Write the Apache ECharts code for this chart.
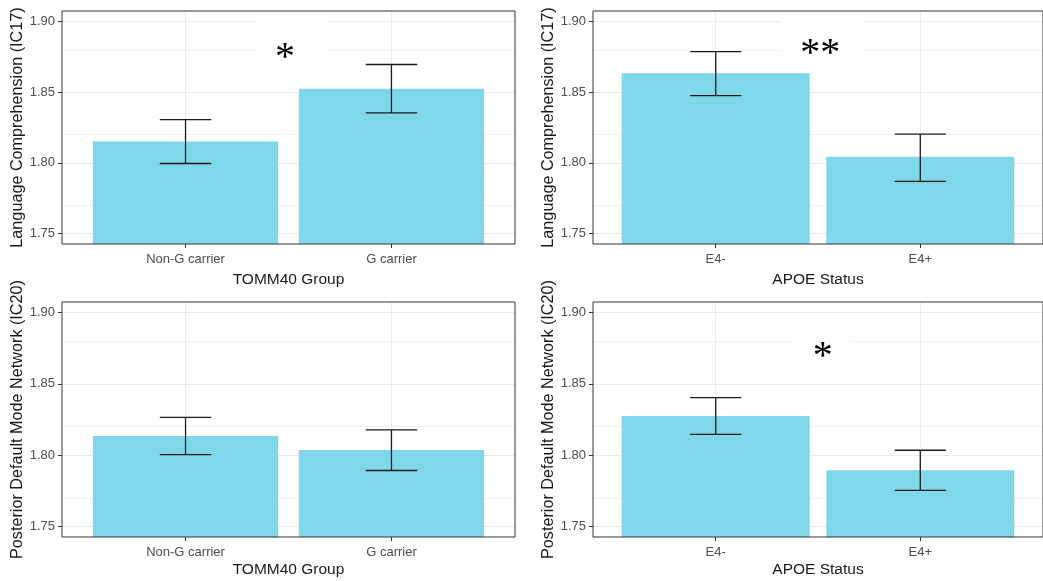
<!DOCTYPE html>
<html><head><meta charset="utf-8">
<script src="https://cdn.jsdelivr.net/npm/echarts/dist/echarts.min.js"></script>
<style>html,body{margin:0;padding:0;background:#fff}#c{width:1043px;height:581px}</style>
</head><body><div id="c"></div>
<script>
// ---- data ----
const tommCategories = ['Non-G carrier', 'G carrier'];
const apoeCategories = ['E4-', 'E4+'];
const xPositions = [1, 2];
const yTicks = [1.75, 1.80, 1.85, 1.90];
const yMinorTicks = [1.775, 1.825, 1.875];

const lcTommMean = [1.815, 1.8525];
const lcTommLow  = [1.7995, 1.8353];
const lcTommHigh = [1.8306, 1.8696];

const lcApoeMean = [1.8635, 1.8043];
const lcApoeLow  = [1.8476, 1.7869];
const lcApoeHigh = [1.8787, 1.8203];

const pdmnTommMean = [1.8134, 1.8035];
const pdmnTommLow  = [1.8003, 1.7892];
const pdmnTommHigh = [1.8265, 1.8177];

const pdmnApoeMean = [1.8274, 1.7894];
const pdmnApoeLow  = [1.8145, 1.7753];
const pdmnApoeHigh = [1.8403, 1.8034];

const sigLabels = ['*', '**', '', '*'];
const sigX      = [1.483, 1.511, null, 1.523];
const sigY      = [1.8792, 1.8822, null, 1.8743];

const yTitles = ['Language Comprehension (IC17)', 'Language Comprehension (IC17)',
                 'Posterior Default Mode Network (IC20)', 'Posterior Default Mode Network (IC20)'];
const xTitles = ['TOMM40 Group', 'APOE Status', 'TOMM40 Group', 'APOE Status'];

// ---- layout / style ----
// box: white label background around the significance mark, [dx, dy, w, h] in px relative to the mark
const panels = [
  {grid:{left:62, top:11, width:453, height:233}, cats:tommCategories, mean:lcTommMean, low:lcTommLow, high:lcTommHigh, yGap:34, xGap:28, box:[-30,-34,72,56]},
  {grid:{left:593, top:11, width:459.5, height:233}, cats:apoeCategories, mean:lcApoeMean, low:lcApoeLow, high:lcApoeHigh, yGap:36, xGap:28, box:[-40,-30,82,52]},
  {grid:{left:62, top:302, width:453, height:235}, cats:tommCategories, mean:pdmnTommMean, low:pdmnTommLow, high:pdmnTommHigh, yGap:34, xGap:25, box:null},
  {grid:{left:593, top:302, width:459.5, height:235}, cats:apoeCategories, mean:pdmnApoeMean, low:pdmnApoeLow, high:pdmnApoeHigh, yGap:36, xGap:25, box:[-31,-24,59,46]}
];
const X_MIN = 0.4, X_MAX = 2.6, Y_MIN = 1.7425, Y_MAX = 1.9075;
const BAR_UNITS = 0.9, CAP_HALF = 0.125;
const FONT = '"Liberation Sans", Arial, sans-serif';
const SIG_FONT = '40px "Liberation Serif", "Times New Roman", serif';
const SIG_GLYPH_SHIFT = 8;
const barColor = '#7FD7EA';
const gridMajor = '#EBEBEB', gridMinor = '#F3F3F3';

const chart = echarts.init(document.getElementById('c'), null, {renderer:'canvas'});
const grids = [], xAxes = [], yAxes = [], series = [];

panels.forEach((p, i) => {
  grids.push(Object.assign({show:true, borderColor:'#333333', borderWidth:1, backgroundColor:'transparent', z:10}, p.grid));
  xAxes.push({
    type:'value', gridIndex:i, min:X_MIN, max:X_MAX,
    name:xTitles[i], nameLocation:'middle', nameGap:p.xGap,
    nameTextStyle:{fontFamily:FONT, fontSize:15.5, color:'#1a1a1a'},
    axisLine:{show:false},
    axisTick:{show:true, length:4, customValues:xPositions, lineStyle:{color:'#333333', width:1}},
    axisLabel:{show:true, margin:9, customValues:xPositions, fontFamily:FONT, fontSize:13, color:'#4D4D4D',
      formatter:(v) => p.cats[Math.round(v) - 1] || ''},
    splitLine:{show:true, lineStyle:{color:gridMajor, width:1}}
  });
  yAxes.push({
    type:'value', gridIndex:i, min:Y_MIN, max:Y_MAX,
    name:yTitles[i], nameLocation:'middle', nameGap:p.yGap, nameRotate:90,
    nameTextStyle:{fontFamily:FONT, fontSize:16.2, color:'#1a1a1a'},
    axisLine:{show:false},
    axisTick:{show:true, length:4, customValues:yTicks, lineStyle:{color:'#333333', width:1}},
    axisLabel:{show:true, margin:7, customValues:yTicks, fontFamily:FONT, fontSize:13, color:'#4D4D4D',
      formatter:(v) => v.toFixed(2)},
    splitLine:{show:true, lineStyle:{color:gridMajor, width:1}}
  });
  // minor grid lines (under the bars)
  series.push({
    type:'line', xAxisIndex:i, yAxisIndex:i, data:[], z:0, silent:true,
    markLine:{silent:true, z:1, symbol:['none','none'], label:{show:false}, animation:false,
      lineStyle:{color:gridMinor, width:1, type:'solid'},
      data: yMinorTicks.map(v => ({yAxis:v}))}
  });
  const barW = BAR_UNITS * p.grid.width / (X_MAX - X_MIN);
  series.push({
    type:'bar', xAxisIndex:i, yAxisIndex:i, z:2, barWidth:barW,
    itemStyle:{color:barColor}, animation:false,
    data: xPositions.map((x, k) => [x, p.mean[k]])
  });
  series.push({
    type:'custom', xAxisIndex:i, yAxisIndex:i, z:4, animation:false,
    data: xPositions.map((x, k) => [x, p.low[k], p.high[k]]),
    renderItem:(params, api) => {
      const x = api.value(0), lo = api.value(1), hi = api.value(2);
      const top = api.coord([x, hi]), bot = api.coord([x, lo]);
      const l = api.coord([x - CAP_HALF, hi])[0], r = api.coord([x + CAP_HALF, hi])[0];
      const style = {stroke:'#1a1a1a', lineWidth:1.3};
      return {type:'group', children:[
        {type:'line', shape:{x1:top[0], y1:top[1], x2:bot[0], y2:bot[1]}, style},
        {type:'line', shape:{x1:l, y1:top[1], x2:r, y2:top[1]}, style},
        {type:'line', shape:{x1:l, y1:bot[1], x2:r, y2:bot[1]}, style}
      ]};
    }
  });
  if (sigLabels[i]) {
    const box = p.box;
    series.push({
      type:'custom', xAxisIndex:i, yAxisIndex:i, z:5, animation:false, silent:true,
      data:[[sigX[i], sigY[i]]],
      renderItem:(params, api) => {
        const c = api.coord([api.value(0), api.value(1)]);
        return {type:'group', children:[
          {type:'rect', shape:{x:c[0] + box[0], y:c[1] + box[1], width:box[2], height:box[3]}, style:{fill:'#ffffff'}},
          {type:'text', style:{text:sigLabels[i], x:c[0], y:c[1] + SIG_GLYPH_SHIFT, align:'center', verticalAlign:'middle',
            font:SIG_FONT, fill:'#000000'}}
        ]};
      }
    });
  }
});

chart.setOption({animation:false, grid:grids, xAxis:xAxes, yAxis:yAxes, series:series});
</script></body></html>
